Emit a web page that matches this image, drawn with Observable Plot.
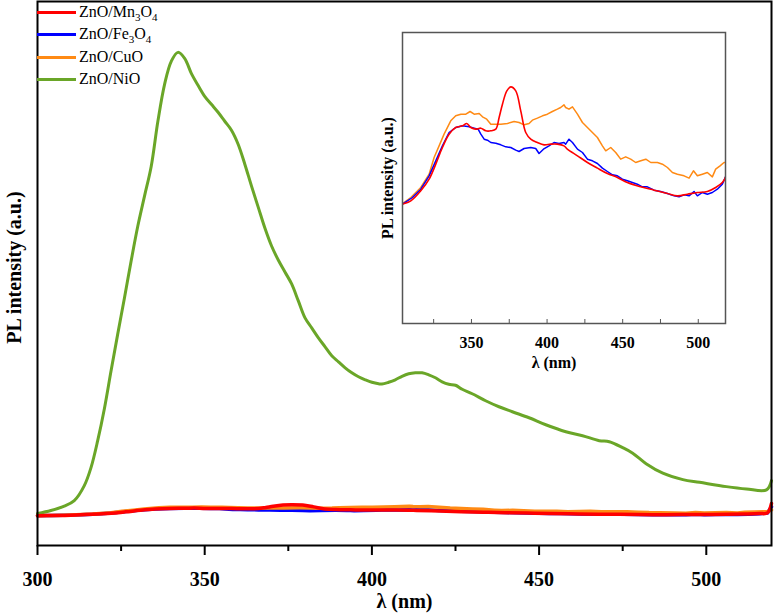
<!DOCTYPE html>
<html><head><meta charset="utf-8">
<script src="https://cdn.jsdelivr.net/npm/d3@7"></script>
<script src="https://cdn.jsdelivr.net/npm/@observablehq/plot@0.6"></script>
<style>
body{margin:0;background:#fff;}
#wrap{position:relative;width:774px;height:616px;font-family:"Liberation Serif","Times New Roman",serif;}
#main,#inset{position:absolute;}
#inset{left:360px;top:20px;}
#legend{position:absolute;left:37px;top:0;font-size:16px;color:#000;}
.row{position:absolute;left:0;height:24px;display:flex;align-items:center;white-space:nowrap;}
.sw{width:39px;height:3px;margin-right:3px;}
sub{font-size:11px;vertical-align:-4px;line-height:0;}
</style></head><body>
<div id="wrap"><div id="main"></div><div id="inset"></div><div id="legend"></div></div>
<script>
// Series: [wavelength (nm), PL intensity (a.u.)]
const mn3o4 = [[300,962],[304.4,968],[309.9,978],[316.5,1008],[322,1043],[326.4,1088],[330.8,1138],[335.2,1178],[339.6,1198],[344.1,1203],[346.9,1210],[349.6,1198],[352.9,1193],[356.2,1196],[359.5,1188],[362.8,1188],[366.1,1193],[368.3,1228],[370.5,1268],[373.4,1308],[376,1320],[379.3,1308],[382.6,1248],[385.9,1183],[389.2,1163],[393.6,1153],[398,1146],[402.4,1148],[406.8,1148],[411.2,1143],[413.4,1133],[420.1,1113],[426.7,1093],[433.3,1076],[439.9,1060],[446.5,1048],[453.1,1033],[462,1020],[470.8,1010],[479.6,1000],[486.2,993],[492.8,998],[499.4,1003],[506,1006],[511.5,1018],[515.9,1033],[518.3,1053],[519.5,1360]];
const fe3o4 = [[300,962],[304.4,968],[311,988],[316.5,1013],[322,1053],[326.4,1098],[330.8,1143],[335.2,1183],[339.6,1198],[344.1,1203],[348.5,1200],[351.8,1196],[354.4,1193],[356.2,1178],[358.4,1163],[360.6,1160],[362.8,1153],[366.1,1151],[369.4,1146],[372.7,1140],[376,1138],[379.3,1130],[381.5,1126],[384.8,1135],[389.2,1138],[392.5,1135],[394.7,1120],[397.6,1133],[401.3,1143],[404.6,1153],[407.9,1150],[411.2,1153],[412.3,1148],[414.5,1163],[416.8,1153],[420.1,1133],[423.4,1123],[426.7,1103],[430,1098],[433.3,1090],[436.6,1076],[439.9,1066],[443.2,1056],[446.5,1053],[449.8,1043],[453.1,1038],[456.4,1033],[459.7,1028],[463,1020],[466.3,1020],[470.8,1010],[475.1,1006],[479.6,1000],[484,993],[487.3,990],[490.6,996],[493.9,993],[497.2,1006],[499.4,993],[502.7,1003],[506,998],[509.3,1003],[512.6,1013],[515.9,1028],[518.3,1053],[519.5,1250]];
const cuo = [[300,962],[304.4,970],[309.9,988],[316.5,1018],[322,1058],[325.3,1108],[328.6,1143],[331.9,1178],[336.3,1218],[339.6,1233],[343,1238],[346.3,1238],[349.1,1246],[351.8,1238],[355.1,1240],[357.3,1230],[360.1,1223],[362.8,1208],[366.1,1208],[369.4,1208],[373.8,1210],[378.2,1216],[381.5,1213],[384.8,1206],[388.1,1210],[390.3,1220],[393.6,1226],[397,1233],[400.2,1238],[403.5,1246],[406.8,1253],[409,1258],[411.2,1266],[412.3,1258],[414.5,1253],[416.8,1260],[420.1,1238],[423.4,1213],[426.7,1198],[430,1183],[433.3,1168],[436.6,1143],[438.8,1128],[442.1,1138],[445.4,1123],[448.7,1103],[452,1110],[455.3,1103],[458.6,1093],[462,1098],[465.3,1103],[468.6,1093],[473,1093],[476.3,1088],[479.6,1078],[482.9,1063],[486.2,1058],[490.6,1053],[493.9,1046],[496.8,1068],[499.4,1053],[502.7,1058],[506,1063],[509.3,1050],[511.5,1073],[514.4,1083],[517,1093],[518.3,1093],[519.5,1150]];
const nio = [[300,1032],[304,1129],[308,1274],[311,1452],[314,1936],[316,2516],[318,3387],[320,4420],[322,5646],[324,6839],[326,8000],[328,9194],[330,10323],[332,11291],[334,12250],[336,13710],[338,14904],[340,15646],[342,15936],[344,15743],[346,15259],[348,14872],[350,14517],[352,14259],[354,14001],[356,13710],[358,13420],[360,12968],[362,12323],[364,11614],[366,10936],[368,10259],[370,9678],[372,9226],[374,8839],[376,8452],[378,7904],[380,7355],[382,7033],[384,6710],[386,6420],[388,6129],[390,5936],[392,5742],[394,5581],[396,5452],[398,5355],[400,5274],[402,5226],[403,5216],[405,5274],[407,5355],[409,5468],[411,5549],[413,5581],[415,5581],[417,5516],[419,5420],[421,5291],[423,5210],[425,5178],[427,5049],[430,4904],[434,4678],[438,4484],[442,4323],[447,4129],[452,3903],[458,3678],[463,3549],[468,3387],[471,3355],[475,3161],[478,2984],[482,2645],[487,2339],[493,2129],[498,2042],[506,1903],[512,1829],[518,1797],[519.5,2097]];

const seriesNames = ["ZnO/Mn3O4","ZnO/Fe3O4","ZnO/CuO","ZnO/NiO"];
const seriesLabels = ["ZnO/Mn<sub>3</sub>O<sub>4</sub>","ZnO/Fe<sub>3</sub>O<sub>4</sub>","ZnO/CuO","ZnO/NiO"];
const seriesColors = ["#ff0000","#0000ff","#ff8a14","#6aa628"];
const mainTicks = [300,350,400,450,500];
const mainMinor = [325,375,425,475];
const insetTicks = [350,400,450,500];
const insetMinor = [325,375,425,475];

const font = '"Liberation Serif","Times New Roman",serif';
const pt = d => ({wl:d[0], I:d[1]});

const main = Plot.plot({
  width:774, height:616, marginLeft:37, marginRight:3, marginTop:1, marginBottom:71,
  x:{domain:[300,519.5]}, y:{domain:[0,17580], axis:null},
  style:{fontFamily:font, background:"transparent", color:"#000"},
  marks:[
    Plot.line(fe3o4.map(pt), {x:"wl", y:"I", stroke:seriesColors[1], strokeWidth:3.5}),
    Plot.line(cuo.map(pt), {x:"wl", y:"I", stroke:seriesColors[2], strokeWidth:3.5}),
    Plot.line(nio.map(pt), {x:"wl", y:"I", stroke:seriesColors[3], strokeWidth:3, curve:"catmull-rom"}),
    Plot.line(mn3o4.map(pt), {x:"wl", y:"I", stroke:seriesColors[0], strokeWidth:3.5, curve:"catmull-rom"}),
    Plot.frame({stroke:"#000", strokeWidth:2}),
    Plot.axisX({ticks:mainTicks, tickSize:10, tickPadding:16, fontSize:20, fontWeight:"bold", label:null, tickFormat:d=>String(d), strokeWidth:2}),
    Plot.axisX({ticks:mainMinor, tickSize:6, text:null, label:null, strokeWidth:2}),
    Plot.text(["λ (nm)"], {text:d=>d, frameAnchor:"bottom", dy:62, fontSize:20, fontWeight:"bold"}),
    Plot.text(["PL intensity (a.u.)"], {text:d=>d, frameAnchor:"left", textAnchor:"middle", rotate:-90, dx:-23, dy:-6, fontSize:20, fontWeight:"bold"})
  ]
});
document.getElementById("main").appendChild(main);

const inset = Plot.plot({
  width:380, height:355, marginLeft:42, marginRight:15, marginTop:12, marginBottom:52,
  x:{domain:[304.4,518]}, y:{domain:[610,1483], axis:null},
  style:{fontFamily:font, background:"transparent", color:"#000"},
  marks:[
    Plot.line(cuo.map(pt), {x:"wl", y:"I", stroke:seriesColors[2], strokeWidth:1.5, clip:true}),
    Plot.line(fe3o4.map(pt), {x:"wl", y:"I", stroke:seriesColors[1], strokeWidth:1.5, clip:true}),
    Plot.line(mn3o4.map(pt), {x:"wl", y:"I", stroke:seriesColors[0], strokeWidth:1.6, clip:true, curve:"catmull-rom"}),
    Plot.frame({stroke:"#555", strokeWidth:1.5}),
    Plot.axisX({ticks:insetTicks, tickSize:-4, text:null, label:null, stroke:"#555"}),
    Plot.axisX({ticks:insetMinor, tickSize:-4, text:null, label:null, stroke:"#555"}),
    Plot.axisX({ticks:insetTicks, tickSize:0, tickPadding:13, fontSize:16, fontWeight:"bold", label:null, tickFormat:d=>String(d)}),
    Plot.text(["λ (nm)"], {text:d=>d, frameAnchor:"bottom", dy:44, dx:-10, fontSize:16, fontWeight:"bold"}),
    Plot.text(["PL intensity (a.u.)"], {text:d=>d, frameAnchor:"left", textAnchor:"middle", rotate:-90, dx:-15, fontSize:16, fontWeight:"bold"})
  ]
});
document.getElementById("inset").appendChild(inset);

const legend = document.getElementById("legend");
const rowY = [12, 34, 57, 79];
seriesNames.forEach((n, i) => {
  const r = document.createElement("div");
  r.className = "row";
  r.style.top = (rowY[i] - 12) + "px";
  r.innerHTML = `<span class="sw" style="background:${seriesColors[i]}"></span><span>${seriesLabels[i]}</span>`;
  legend.appendChild(r);
});
</script>
</body></html>
